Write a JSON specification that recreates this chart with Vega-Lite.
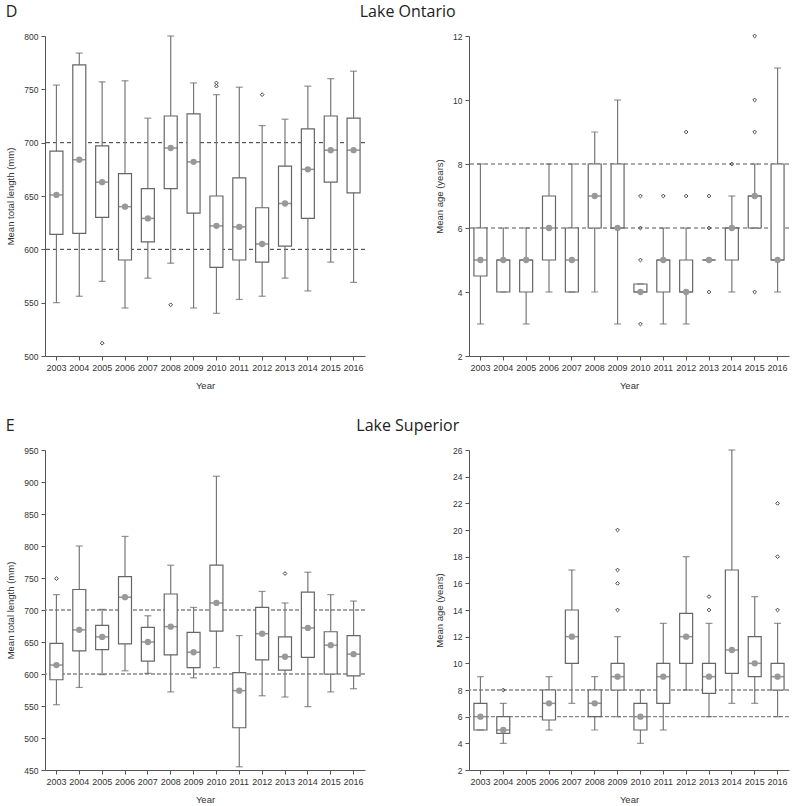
{
  "$schema": "https://vega.github.io/schema/vega-lite/v6.json",
  "padding": {"left": 5, "top": 4, "right": 0, "bottom": 0},
  "background": "white",
  "datasets": {
    "box": [
      {"p": "OL", "yr": "2003", "lo": 550, "q1": 614, "md": 651, "q3": 692, "hi": 754},
      {"p": "OL", "yr": "2004", "lo": 556, "q1": 615, "md": 684, "q3": 773, "hi": 784},
      {"p": "OL", "yr": "2005", "lo": 570, "q1": 630, "md": 663, "q3": 697, "hi": 757},
      {"p": "OL", "yr": "2006", "lo": 545, "q1": 590, "md": 640, "q3": 671, "hi": 758},
      {"p": "OL", "yr": "2007", "lo": 573, "q1": 607, "md": 629, "q3": 657, "hi": 723},
      {"p": "OL", "yr": "2008", "lo": 587, "q1": 657, "md": 695, "q3": 725, "hi": 800},
      {"p": "OL", "yr": "2009", "lo": 545, "q1": 634, "md": 682, "q3": 727, "hi": 756},
      {"p": "OL", "yr": "2010", "lo": 540, "q1": 583, "md": 622, "q3": 650, "hi": 745},
      {"p": "OL", "yr": "2011", "lo": 553, "q1": 590, "md": 621, "q3": 667, "hi": 752},
      {"p": "OL", "yr": "2012", "lo": 556, "q1": 588, "md": 605, "q3": 639, "hi": 716},
      {"p": "OL", "yr": "2013", "lo": 573, "q1": 603, "md": 643, "q3": 678, "hi": 722},
      {"p": "OL", "yr": "2014", "lo": 561, "q1": 629, "md": 675, "q3": 713, "hi": 753},
      {"p": "OL", "yr": "2015", "lo": 588, "q1": 663, "md": 693, "q3": 725, "hi": 760},
      {"p": "OL", "yr": "2016", "lo": 569, "q1": 653, "md": 693, "q3": 723, "hi": 767},
      {"p": "OA", "yr": "2003", "lo": 3, "q1": 4.5, "md": 5, "q3": 6, "hi": 8},
      {"p": "OA", "yr": "2004", "lo": 4, "q1": 4, "md": 5, "q3": 5, "hi": 6},
      {"p": "OA", "yr": "2005", "lo": 3, "q1": 4, "md": 5, "q3": 5, "hi": 6},
      {"p": "OA", "yr": "2006", "lo": 4, "q1": 5, "md": 6, "q3": 7, "hi": 8},
      {"p": "OA", "yr": "2007", "lo": 4, "q1": 4, "md": 5, "q3": 6, "hi": 8},
      {"p": "OA", "yr": "2008", "lo": 4, "q1": 6, "md": 7, "q3": 8, "hi": 9},
      {"p": "OA", "yr": "2009", "lo": 3, "q1": 6, "md": 6, "q3": 8, "hi": 10},
      {"p": "OA", "yr": "2010", "lo": 4, "q1": 4, "md": 4, "q3": 4.25, "hi": 4.25},
      {"p": "OA", "yr": "2011", "lo": 3, "q1": 4, "md": 5, "q3": 5, "hi": 6},
      {"p": "OA", "yr": "2012", "lo": 3, "q1": 4, "md": 4, "q3": 5, "hi": 6},
      {"p": "OA", "yr": "2013", "lo": 5, "q1": 5, "md": 5, "q3": 5, "hi": 5},
      {"p": "OA", "yr": "2014", "lo": 4, "q1": 5, "md": 6, "q3": 6, "hi": 7},
      {"p": "OA", "yr": "2015", "lo": 6, "q1": 6, "md": 7, "q3": 7, "hi": 8},
      {"p": "OA", "yr": "2016", "lo": 4, "q1": 5, "md": 5, "q3": 8, "hi": 11},
      {"p": "SL", "yr": "2003", "lo": 552, "q1": 591, "md": 614, "q3": 648, "hi": 724},
      {"p": "SL", "yr": "2004", "lo": 579, "q1": 636, "md": 669, "q3": 732, "hi": 800},
      {"p": "SL", "yr": "2005", "lo": 599, "q1": 638, "md": 658, "q3": 676, "hi": 701},
      {"p": "SL", "yr": "2006", "lo": 605, "q1": 647, "md": 720, "q3": 752, "hi": 815},
      {"p": "SL", "yr": "2007", "lo": 601, "q1": 620, "md": 650, "q3": 673, "hi": 691},
      {"p": "SL", "yr": "2008", "lo": 572, "q1": 630, "md": 674, "q3": 725, "hi": 770},
      {"p": "SL", "yr": "2009", "lo": 594, "q1": 610, "md": 634, "q3": 665, "hi": 704},
      {"p": "SL", "yr": "2010", "lo": 610, "q1": 667, "md": 711, "q3": 770, "hi": 909},
      {"p": "SL", "yr": "2011", "lo": 455, "q1": 516, "md": 574, "q3": 602, "hi": 660},
      {"p": "SL", "yr": "2012", "lo": 566, "q1": 622, "md": 663, "q3": 704, "hi": 729},
      {"p": "SL", "yr": "2013", "lo": 564, "q1": 606, "md": 627, "q3": 658, "hi": 711},
      {"p": "SL", "yr": "2014", "lo": 549, "q1": 626, "md": 672, "q3": 728, "hi": 759},
      {"p": "SL", "yr": "2015", "lo": 572, "q1": 600, "md": 645, "q3": 666, "hi": 724},
      {"p": "SL", "yr": "2016", "lo": 577, "q1": 597, "md": 631, "q3": 660, "hi": 714},
      {"p": "SA", "yr": "2003", "lo": 5, "q1": 5, "md": 6, "q3": 7, "hi": 9},
      {"p": "SA", "yr": "2004", "lo": 4, "q1": 4.75, "md": 5, "q3": 6, "hi": 7},
      {"p": "SA", "yr": "2006", "lo": 5, "q1": 5.75, "md": 7, "q3": 8, "hi": 9},
      {"p": "SA", "yr": "2007", "lo": 7, "q1": 10, "md": 12, "q3": 14, "hi": 17},
      {"p": "SA", "yr": "2008", "lo": 5, "q1": 6, "md": 7, "q3": 8, "hi": 9},
      {"p": "SA", "yr": "2009", "lo": 6, "q1": 8, "md": 9, "q3": 10, "hi": 12},
      {"p": "SA", "yr": "2010", "lo": 4, "q1": 5, "md": 6, "q3": 7, "hi": 8},
      {"p": "SA", "yr": "2011", "lo": 5, "q1": 7, "md": 9, "q3": 10, "hi": 13},
      {"p": "SA", "yr": "2012", "lo": 8, "q1": 10, "md": 12, "q3": 13.75, "hi": 18},
      {"p": "SA", "yr": "2013", "lo": 6, "q1": 7.75, "md": 9, "q3": 10, "hi": 13},
      {"p": "SA", "yr": "2014", "lo": 7, "q1": 9.25, "md": 11, "q3": 17, "hi": 26},
      {"p": "SA", "yr": "2015", "lo": 7, "q1": 9, "md": 10, "q3": 12, "hi": 15},
      {"p": "SA", "yr": "2016", "lo": 6, "q1": 8, "md": 9, "q3": 10, "hi": 13}
    ],
    "out": [
      {"p": "OL", "yr": "2005", "v": 512},
      {"p": "OL", "yr": "2008", "v": 548},
      {"p": "OL", "yr": "2010", "v": 753},
      {"p": "OL", "yr": "2010", "v": 756},
      {"p": "OL", "yr": "2012", "v": 745},
      {"p": "OA", "yr": "2010", "v": 7},
      {"p": "OA", "yr": "2010", "v": 6},
      {"p": "OA", "yr": "2010", "v": 5},
      {"p": "OA", "yr": "2010", "v": 3},
      {"p": "OA", "yr": "2011", "v": 7},
      {"p": "OA", "yr": "2012", "v": 9},
      {"p": "OA", "yr": "2012", "v": 7},
      {"p": "OA", "yr": "2013", "v": 7},
      {"p": "OA", "yr": "2013", "v": 6},
      {"p": "OA", "yr": "2013", "v": 4},
      {"p": "OA", "yr": "2014", "v": 8},
      {"p": "OA", "yr": "2015", "v": 12},
      {"p": "OA", "yr": "2015", "v": 10},
      {"p": "OA", "yr": "2015", "v": 9},
      {"p": "OA", "yr": "2015", "v": 4},
      {"p": "SL", "yr": "2003", "v": 749},
      {"p": "SL", "yr": "2013", "v": 757},
      {"p": "SA", "yr": "2004", "v": 8},
      {"p": "SA", "yr": "2009", "v": 20},
      {"p": "SA", "yr": "2009", "v": 17},
      {"p": "SA", "yr": "2009", "v": 16},
      {"p": "SA", "yr": "2009", "v": 14},
      {"p": "SA", "yr": "2013", "v": 15},
      {"p": "SA", "yr": "2013", "v": 14},
      {"p": "SA", "yr": "2016", "v": 22},
      {"p": "SA", "yr": "2016", "v": 18},
      {"p": "SA", "yr": "2016", "v": 14}
    ],
    "ref": [
      {"p": "OL", "v": 600}, {"p": "OL", "v": 700},
      {"p": "OA", "v": 6}, {"p": "OA", "v": 8},
      {"p": "SL", "v": 600}, {"p": "SL", "v": 700},
      {"p": "SA", "v": 6}, {"p": "SA", "v": 8}
    ]
  },
  "vconcat": [
    {
      "title": {"text": "Lake Ontario", "anchor": "middle", "offset": -16, "dx": 10},
      "spacing": 68,
      "hconcat": [
        {
          "width": 320, "height": 320,
          "title": {"text": "D", "anchor": "start", "frame": "bounds", "offset": 12},
          "layer": [
            {"data": {"name": "ref"}, "transform": [{"filter": "datum.p == 'OL'"}],
             "mark": {"type": "rule", "strokeDash": [4, 3], "color": "#333", "strokeWidth": 1},
             "encoding": {"y": {"field": "v", "type": "quantitative", "scale": {"domain": [500, 800], "nice": false, "zero": false},
               "axis": {"title": "Mean total length (mm)", "values": [500, 550, 600, 650, 700, 750, 800], "tickCount": 40, "format": "d"}}}},
            {"data": {"name": "box"}, "transform": [{"filter": "datum.p == 'OL'"}],
             "mark": {"type": "rule", "color": "#777", "strokeWidth": 1.2},
             "encoding": {"x": {"field": "yr", "type": "ordinal", "title": "Year",
               "scale": {"domain": ["2003","2004","2005","2006","2007","2008","2009","2010","2011","2012","2013","2014","2015","2016"], "paddingInner": 0, "paddingOuter": 0}},
               "y": {"field": "lo", "type": "quantitative"}, "y2": {"field": "hi"}}},
            {"data": {"name": "box"}, "transform": [{"filter": "datum.p == 'OL'"}],
             "mark": {"type": "bar", "fill": "white", "stroke": "#666", "strokeWidth": 1.2, "size": 13},
             "encoding": {"x": {"field": "yr", "type": "ordinal"}, "y": {"field": "q1", "type": "quantitative"}, "y2": {"field": "q3"}}},
            {"data": {"name": "box"}, "transform": [{"filter": "datum.p == 'OL'"}],
             "mark": {"type": "tick", "color": "#666", "size": 13, "thickness": 1.5},
             "encoding": {"x": {"field": "yr", "type": "ordinal"}, "y": {"field": "md", "type": "quantitative"}}},
            {"data": {"name": "box"}, "transform": [{"filter": "datum.p == 'OL'"}],
             "mark": {"type": "tick", "color": "#666", "size": 7, "thickness": 1.2},
             "encoding": {"x": {"field": "yr", "type": "ordinal"}, "y": {"field": "hi", "type": "quantitative"}}},
            {"data": {"name": "box"}, "transform": [{"filter": "datum.p == 'OL'"}],
             "mark": {"type": "tick", "color": "#666", "size": 7, "thickness": 1.2},
             "encoding": {"x": {"field": "yr", "type": "ordinal"}, "y": {"field": "lo", "type": "quantitative"}}},
            {"data": {"name": "box"}, "transform": [{"filter": "datum.p == 'OL'"}],
             "mark": {"type": "point", "filled": true, "color": "#999", "size": 40, "opacity": 1},
             "encoding": {"x": {"field": "yr", "type": "ordinal"}, "y": {"field": "md", "type": "quantitative"}}},
            {"data": {"name": "out"}, "transform": [{"filter": "datum.p == 'OL'"}],
             "mark": {"type": "point", "shape": "diamond", "filled": false, "color": "#444", "size": 14, "strokeWidth": 1, "opacity": 1},
             "encoding": {"x": {"field": "yr", "type": "ordinal"}, "y": {"field": "v", "type": "quantitative"}}}
          ]
        },
        {
          "width": 320, "height": 320,
          "layer": [
            {"data": {"name": "ref"}, "transform": [{"filter": "datum.p == 'OA'"}],
             "mark": {"type": "rule", "strokeDash": [4, 3], "color": "#555", "strokeWidth": 1},
             "encoding": {"y": {"field": "v", "type": "quantitative", "scale": {"domain": [2, 12], "nice": false, "zero": false},
               "axis": {"title": "Mean age (years)", "values": [2, 4, 6, 8, 10, 12], "tickCount": 40, "format": "d"}}}},
            {"data": {"name": "box"}, "transform": [{"filter": "datum.p == 'OA'"}],
             "mark": {"type": "rule", "color": "#777", "strokeWidth": 1.2},
             "encoding": {"x": {"field": "yr", "type": "ordinal", "title": "Year",
               "scale": {"domain": ["2003","2004","2005","2006","2007","2008","2009","2010","2011","2012","2013","2014","2015","2016"], "paddingInner": 0, "paddingOuter": 0}},
               "y": {"field": "lo", "type": "quantitative"}, "y2": {"field": "hi"}}},
            {"data": {"name": "box"}, "transform": [{"filter": "datum.p == 'OA'"}],
             "mark": {"type": "bar", "fill": "white", "stroke": "#666", "strokeWidth": 1.2, "size": 13},
             "encoding": {"x": {"field": "yr", "type": "ordinal"}, "y": {"field": "q1", "type": "quantitative"}, "y2": {"field": "q3"}}},
            {"data": {"name": "box"}, "transform": [{"filter": "datum.p == 'OA'"}],
             "mark": {"type": "tick", "color": "#666", "size": 13, "thickness": 1.5},
             "encoding": {"x": {"field": "yr", "type": "ordinal"}, "y": {"field": "md", "type": "quantitative"}}},
            {"data": {"name": "box"}, "transform": [{"filter": "datum.p == 'OA'"}],
             "mark": {"type": "tick", "color": "#666", "size": 7, "thickness": 1.2},
             "encoding": {"x": {"field": "yr", "type": "ordinal"}, "y": {"field": "hi", "type": "quantitative"}}},
            {"data": {"name": "box"}, "transform": [{"filter": "datum.p == 'OA'"}],
             "mark": {"type": "tick", "color": "#666", "size": 7, "thickness": 1.2},
             "encoding": {"x": {"field": "yr", "type": "ordinal"}, "y": {"field": "lo", "type": "quantitative"}}},
            {"data": {"name": "box"}, "transform": [{"filter": "datum.p == 'OA'"}],
             "mark": {"type": "point", "filled": true, "color": "#999", "size": 40, "opacity": 1},
             "encoding": {"x": {"field": "yr", "type": "ordinal"}, "y": {"field": "md", "type": "quantitative"}}},
            {"data": {"name": "out"}, "transform": [{"filter": "datum.p == 'OA'"}],
             "mark": {"type": "point", "shape": "diamond", "filled": false, "color": "#444", "size": 14, "strokeWidth": 1, "opacity": 1},
             "encoding": {"x": {"field": "yr", "type": "ordinal"}, "y": {"field": "v", "type": "quantitative"}}}
          ]
        }
      ]
    },
    {
      "title": {"text": "Lake Superior", "anchor": "middle", "offset": -16, "dx": 10},
      "spacing": 68,
      "hconcat": [
        {
          "width": 320, "height": 320,
          "title": {"text": "E", "anchor": "start", "frame": "bounds", "offset": 12},
          "layer": [
            {"data": {"name": "ref"}, "transform": [{"filter": "datum.p == 'SL'"}],
             "mark": {"type": "rule", "strokeDash": [4, 2], "color": "#888", "strokeWidth": 1.3},
             "encoding": {"y": {"field": "v", "type": "quantitative", "scale": {"domain": [450, 950], "nice": false, "zero": false},
               "axis": {"title": "Mean total length (mm)", "values": [450, 500, 550, 600, 650, 700, 750, 800, 850, 900, 950], "tickCount": 40, "format": "d"}}}},
            {"data": {"name": "box"}, "transform": [{"filter": "datum.p == 'SL'"}],
             "mark": {"type": "rule", "color": "#777", "strokeWidth": 1.2},
             "encoding": {"x": {"field": "yr", "type": "ordinal", "title": "Year",
               "scale": {"domain": ["2003","2004","2005","2006","2007","2008","2009","2010","2011","2012","2013","2014","2015","2016"], "paddingInner": 0, "paddingOuter": 0}},
               "y": {"field": "lo", "type": "quantitative"}, "y2": {"field": "hi"}}},
            {"data": {"name": "box"}, "transform": [{"filter": "datum.p == 'SL'"}],
             "mark": {"type": "bar", "fill": "white", "stroke": "#666", "strokeWidth": 1.2, "size": 13},
             "encoding": {"x": {"field": "yr", "type": "ordinal"}, "y": {"field": "q1", "type": "quantitative"}, "y2": {"field": "q3"}}},
            {"data": {"name": "box"}, "transform": [{"filter": "datum.p == 'SL'"}],
             "mark": {"type": "tick", "color": "#666", "size": 13, "thickness": 1.5},
             "encoding": {"x": {"field": "yr", "type": "ordinal"}, "y": {"field": "md", "type": "quantitative"}}},
            {"data": {"name": "box"}, "transform": [{"filter": "datum.p == 'SL'"}],
             "mark": {"type": "tick", "color": "#666", "size": 7, "thickness": 1.2},
             "encoding": {"x": {"field": "yr", "type": "ordinal"}, "y": {"field": "hi", "type": "quantitative"}}},
            {"data": {"name": "box"}, "transform": [{"filter": "datum.p == 'SL'"}],
             "mark": {"type": "tick", "color": "#666", "size": 7, "thickness": 1.2},
             "encoding": {"x": {"field": "yr", "type": "ordinal"}, "y": {"field": "lo", "type": "quantitative"}}},
            {"data": {"name": "box"}, "transform": [{"filter": "datum.p == 'SL'"}],
             "mark": {"type": "point", "filled": true, "color": "#999", "size": 40, "opacity": 1},
             "encoding": {"x": {"field": "yr", "type": "ordinal"}, "y": {"field": "md", "type": "quantitative"}}},
            {"data": {"name": "out"}, "transform": [{"filter": "datum.p == 'SL'"}],
             "mark": {"type": "point", "shape": "diamond", "filled": false, "color": "#444", "size": 14, "strokeWidth": 1, "opacity": 1},
             "encoding": {"x": {"field": "yr", "type": "ordinal"}, "y": {"field": "v", "type": "quantitative"}}}
          ]
        },
        {
          "width": 320, "height": 320,
          "layer": [
            {"data": {"name": "ref"}, "transform": [{"filter": "datum.p == 'SA'"}],
             "mark": {"type": "rule", "strokeDash": [4, 2], "color": "#888", "strokeWidth": 1.3},
             "encoding": {"y": {"field": "v", "type": "quantitative", "scale": {"domain": [2, 26], "nice": false, "zero": false},
               "axis": {"title": "Mean age (years)", "values": [2, 4, 6, 8, 10, 12, 14, 16, 18, 20, 22, 24, 26], "tickCount": 40, "format": "d"}}}},
            {"data": {"name": "box"}, "transform": [{"filter": "datum.p == 'SA'"}],
             "mark": {"type": "rule", "color": "#777", "strokeWidth": 1.2},
             "encoding": {"x": {"field": "yr", "type": "ordinal", "title": "Year",
               "scale": {"domain": ["2003","2004","2005","2006","2007","2008","2009","2010","2011","2012","2013","2014","2015","2016"], "paddingInner": 0, "paddingOuter": 0}},
               "y": {"field": "lo", "type": "quantitative"}, "y2": {"field": "hi"}}},
            {"data": {"name": "box"}, "transform": [{"filter": "datum.p == 'SA'"}],
             "mark": {"type": "bar", "fill": "white", "stroke": "#666", "strokeWidth": 1.2, "size": 13},
             "encoding": {"x": {"field": "yr", "type": "ordinal"}, "y": {"field": "q1", "type": "quantitative"}, "y2": {"field": "q3"}}},
            {"data": {"name": "box"}, "transform": [{"filter": "datum.p == 'SA'"}],
             "mark": {"type": "tick", "color": "#666", "size": 13, "thickness": 1.5},
             "encoding": {"x": {"field": "yr", "type": "ordinal"}, "y": {"field": "md", "type": "quantitative"}}},
            {"data": {"name": "box"}, "transform": [{"filter": "datum.p == 'SA'"}],
             "mark": {"type": "tick", "color": "#666", "size": 7, "thickness": 1.2},
             "encoding": {"x": {"field": "yr", "type": "ordinal"}, "y": {"field": "hi", "type": "quantitative"}}},
            {"data": {"name": "box"}, "transform": [{"filter": "datum.p == 'SA'"}],
             "mark": {"type": "tick", "color": "#666", "size": 7, "thickness": 1.2},
             "encoding": {"x": {"field": "yr", "type": "ordinal"}, "y": {"field": "lo", "type": "quantitative"}}},
            {"data": {"name": "box"}, "transform": [{"filter": "datum.p == 'SA'"}],
             "mark": {"type": "point", "filled": true, "color": "#999", "size": 40, "opacity": 1},
             "encoding": {"x": {"field": "yr", "type": "ordinal"}, "y": {"field": "md", "type": "quantitative"}}},
            {"data": {"name": "out"}, "transform": [{"filter": "datum.p == 'SA'"}],
             "mark": {"type": "point", "shape": "diamond", "filled": false, "color": "#444", "size": 14, "strokeWidth": 1, "opacity": 1},
             "encoding": {"x": {"field": "yr", "type": "ordinal"}, "y": {"field": "v", "type": "quantitative"}}}
          ]
        }
      ]
    }
  ],
  "spacing": 28,
  "config": {
    "view": {"stroke": null},
    "axis": {"grid": false, "domainColor": "#555", "tickColor": "#555", "labelColor": "#333", "titleColor": "#333",
      "labelFont": "Liberation Sans", "titleFont": "Liberation Sans", "titleFontWeight": "normal", "tickSize": 4},
    "axisY": {"labelFontSize": 8.5, "titleFontSize": 9.5, "labelPadding": 3, "titlePadding": 8, "labelOverlap": false},
    "axisX": {"labelFontSize": 9, "titleFontSize": 9.5, "labelAngle": 0, "labelPadding": 3, "titlePadding": 8, "bandPosition": 0.5, "labelOverlap": false},
    "title": {"font": "Open Sans", "fontSize": 16, "fontWeight": "normal", "color": "#222"}
  }
}
